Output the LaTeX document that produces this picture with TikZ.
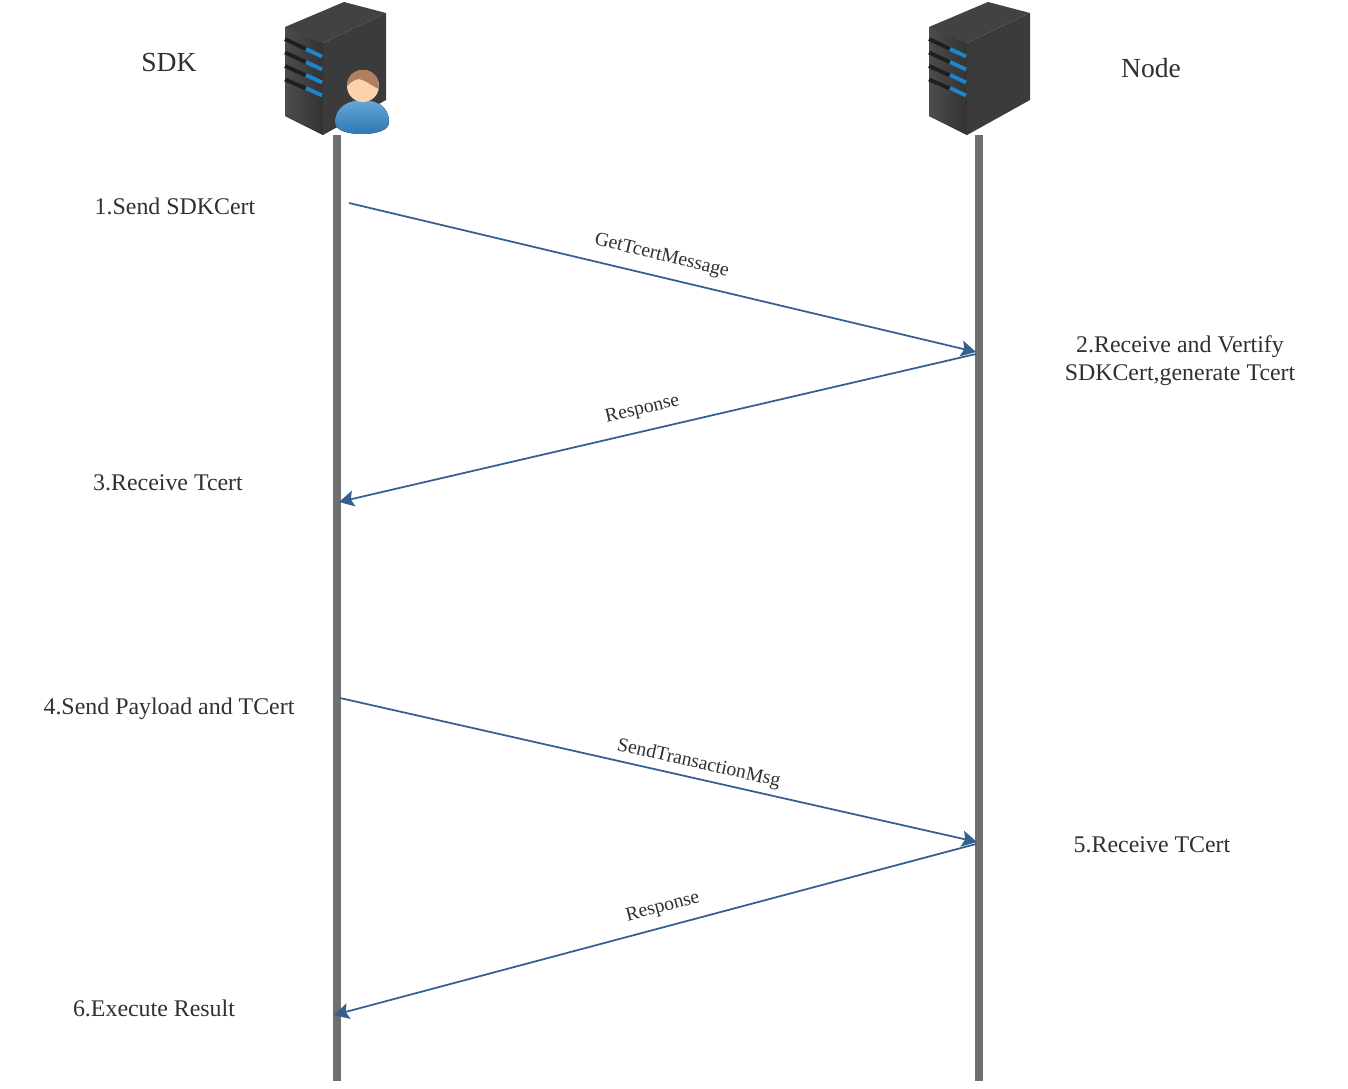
\documentclass[tikz,border=0pt]{standalone}
\usepackage{fontspec}
\setmainfont{Liberation Serif}
\usepackage{xcolor}
\usetikzlibrary{arrows.meta, calc}
\definecolor{lifegray}{HTML}{6F6F6F}
\definecolor{msgblue}{HTML}{34608F}
\definecolor{txtgray}{HTML}{303030}
\definecolor{slotblue}{HTML}{1C86CC}
\definecolor{skin}{HTML}{FAD3AE}
\definecolor{hair}{HTML}{B07F60}
\definecolor{shirtdark}{HTML}{2E78B4}
\definecolor{shirtlight}{HTML}{66A6D6}

\begin{document}
\begin{tikzpicture}[
    x=0.02cm, y=-0.02cm,
    title/.style={text=txtgray, font=\fontsize{15.7}{18}\selectfont},
    stepnote/.style={text=txtgray, align=center, font=\fontsize{13.6}{15.9}\selectfont},
    msg/.style={sloped, text=txtgray, inner sep=0pt, font=\fontsize{11.2}{13}\selectfont},
    life/.style={draw=lifegray, line width=8*0.02cm},
    arrow/.style={draw=msgblue, line width=1pt, -{Stealth[length=15*0.02cm, width=16*0.02cm, inset=3*0.02cm]}},
    server/.pic={
        \fill[left color=black!70, right color=black!80] (285,27) -- (323,43) -- (323,135) -- (285,116) -- cycle;
        \fill[black!77] (323,43) -- (386,13) -- (386,100) -- (323,135) -- cycle;
        \fill[black!74] (285,27) -- (344,2) -- (386,13) -- (323,43) -- cycle;
        \foreach \i in {0,1,2,3} {
            \draw[black!88, line width=2.2pt] (285,39+13.5*\i) -- (306,49+13.2*\i);
            \draw[slotblue, line width=2.2pt] (306,49+13*\i) -- (322,56.5+13*\i);
        }
    }
]
    \useasboundingbox (0,0) rectangle (1348,1088);

    \pic at (0,0) {server};
    \pic at (644,0) {server};

    % user on top of the first server
    \fill[top color=shirtlight, bottom color=shirtdark]
        (335,122) .. controls (335,106) and (350,100) .. (362,100)
        .. controls (376,100) and (389,106) .. (389,122)
        .. controls (389,131) and (375,134) .. (362,134)
        .. controls (349,134) and (335,131) .. (335,122) -- cycle;
    \fill[skin] (363,86) circle (16);
    \fill[hair] (347,86) .. controls (347,75) and (355,70) .. (363,70)
        .. controls (372,70) and (379,76) .. (379,89)
        .. controls (372,86) and (365,80) .. (359,79)
        .. controls (353,80) and (350,83) .. (347,86) -- cycle;

    \coordinate (sdktop) at (337,135);
    \coordinate (sdkend) at (337,1081);
    \coordinate (nodetop) at (979,135);
    \coordinate (nodeend) at (979,1081);
    \draw[life] (sdktop) -- (sdkend);
    \draw[life] (nodetop) -- (nodeend);

    \node[title] (sdk) at (169,63) {SDK};
    \node[title] (nodename) at (1151,68) {Node};

    \node[stepnote] (s1) at (175,206) {1.Send SDKCert};
    \node[stepnote] (s2) at (1180,361) {2.Receive and Vertify\\SDKCert,generate Tcert};
    \node[stepnote] (s3) at (168,483) {3.Receive Tcert};
    \node[stepnote] (s4) at (169,709) {4.Send Payload and TCert};
    \node[stepnote] (s5) at (1152,845) {5.Receive TCert};
    \node[stepnote] (s6) at (154,1008) {6.Execute Result};

    \coordinate (a1) at (349,203);
    \coordinate (b1) at (976,352);
    \coordinate (b2) at (976,354);
    \coordinate (a2) at (339,502);
    \coordinate (a3) at (340,698);
    \coordinate (b3) at (977,842);
    \coordinate (b4) at (976,844);
    \coordinate (a4) at (334,1015);

    \draw[arrow] (a1) -- node[msg, pos=0.491, above=11*0.02cm] (m1) {GetTcertMessage} (b1);
    \draw[arrow] (b2) -- node[msg, pos=0.516, above=12*0.02cm] (m2) {Response} (a2);
    \draw[arrow] (a3) -- node[msg, pos=0.558, above=5*0.02cm] (m3) {SendTransactionMsg} (b3);
    \draw[arrow] (b4) -- node[msg, pos=0.48, above=10*0.02cm] (m4) {Response} (a4);
\end{tikzpicture}
\end{document}
